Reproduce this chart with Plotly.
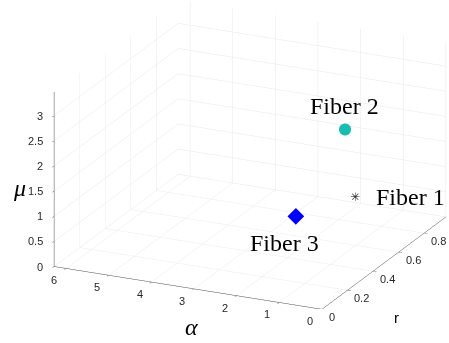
import math
import plotly.graph_objects as go

# ---- data (x = r, y = alpha, z = mu) ----
fibers = ["Fiber 1", "Fiber 2", "Fiber 3"]
alpha_vals = [1.5, 1.5, 1.5]
r_vals = [0.76, 0.68, 0.295]
mu_vals = [0.60, 2.09, 1.09]

alpha_ticks = [0, 1, 2, 3, 4, 5, 6]
r_ticks = [0, 0.2, 0.4, 0.6, 0.8]
mu_ticks = [0, 0.5, 1, 1.5, 2, 2.5, 3]

alpha_range = [0, 2 * math.pi]
r_range = [0, 0.97]
mu_range = [0, 3.47]

fig = go.Figure()

# Fiber 1: asterisk
fig.add_trace(go.Scatter3d(x=[r_vals[0]], y=[alpha_vals[0]], z=[mu_vals[0]], mode="text",
                           text=["✳"], textposition="middle center",
                           textfont=dict(family="DejaVu Sans", size=12, color="#333333"),
                           showlegend=False, hoverinfo="skip"))
# Fiber 2: teal circle
fig.add_trace(go.Scatter3d(x=[r_vals[1]], y=[alpha_vals[1]], z=[mu_vals[1]], mode="markers",
                           marker=dict(symbol="circle", size=7, color="#17BDB0"), showlegend=False, hoverinfo="skip"))
# Fiber 3: blue diamond
fig.add_trace(go.Scatter3d(x=[r_vals[2]], y=[alpha_vals[2]], z=[mu_vals[2]], mode="markers",
                           marker=dict(symbol="diamond", size=5.5, color="#0000FF"), showlegend=False, hoverinfo="skip"))

def ax(rng, ticks):
    return dict(range=rng, autorange=False, tickvals=ticks,
                showgrid=True, gridcolor="#e8e8e8", gridwidth=1,
                showline=True, linecolor="#4d4d4d", linewidth=1,
                ticks="outside", ticklen=4, tickcolor="#4d4d4d",
                showticklabels=False, showbackground=False, zeroline=False,
                showspikes=False, title=dict(text=""))

label_font = dict(family="Liberation Serif, Times New Roman", size=24, color="black")
tick_font = dict(family="Liberation Sans, Arial", size=11, color="#262626")

scene_ann = [
    dict(x=r_vals[0], y=alpha_vals[0], z=mu_vals[0], text=fibers[0], showarrow=False,
         xanchor="left", yanchor="middle", xshift=19, font=label_font),
    dict(x=r_vals[1], y=alpha_vals[1], z=mu_vals[1], text=fibers[1], showarrow=False,
         xanchor="center", yanchor="bottom", yshift=8, font=label_font),
    dict(x=r_vals[2], y=alpha_vals[2], z=mu_vals[2], text=fibers[2], showarrow=False,
         xanchor="center", yanchor="top", xshift=-11, yshift=-12, font=label_font),
]
# tick labels (horizontal, MATLAB style)
for t in mu_ticks:
    scene_ann.append(dict(x=r_range[0], y=alpha_range[1], z=t, text=str(t), showarrow=False,
                          xanchor="right", yanchor="middle", xshift=-9, font=tick_font))
for t in alpha_ticks:
    scene_ann.append(dict(x=r_range[0], y=t, z=mu_range[0], text=str(t), showarrow=False,
                          xanchor="center", yanchor="middle", xshift=-12, yshift=-12, font=tick_font))
for t in r_ticks:
    scene_ann.append(dict(x=t, y=alpha_range[0], z=mu_range[0], text=str(t), showarrow=False,
                          xanchor="left", yanchor="middle", xshift=5, yshift=-8, font=tick_font))

d = 1.6
eye = dict(x=-0.8518 * d, y=-0.3945 * d, z=0.3447 * d)
s = 1.91

fig.update_layout(
    width=449, height=343, margin=dict(l=0, r=0, t=0, b=0),
    paper_bgcolor="white", plot_bgcolor="white", showlegend=False,
    scene=dict(
        domain=dict(x=[0.114, 1.0], y=[0.0991, 1.0]),
        xaxis=ax(r_range, r_ticks),
        yaxis=ax(alpha_range, alpha_ticks),
        zaxis=ax(mu_range, mu_ticks),
        aspectmode="manual", aspectratio=dict(x=s, y=s, z=0.63 * s),
        camera=dict(eye=eye, up=dict(x=0, y=0, z=1), center=dict(x=0, y=0, z=0),
                    projection=dict(type="orthographic")),
        annotations=scene_ann,
    ),
    annotations=[
        dict(xref="paper", yref="paper", x=19 / 449, y=1 - 188 / 343, text="<i>μ</i>", showarrow=False,
             xanchor="center", yanchor="middle",
             font=dict(family="Liberation Serif", size=24, color="black")),
        dict(xref="paper", yref="paper", x=191 / 449, y=1 - 327 / 343, text="<i>α</i>", showarrow=False,
             xanchor="center", yanchor="middle",
             font=dict(family="Liberation Serif", size=24, color="black")),
        dict(xref="paper", yref="paper", x=396 / 449, y=1 - 317 / 343, text="r", showarrow=False,
             xanchor="center", yanchor="middle",
             font=dict(family="Liberation Sans", size=15, color="black")),
    ],
)

fig.write_html("out.html")
